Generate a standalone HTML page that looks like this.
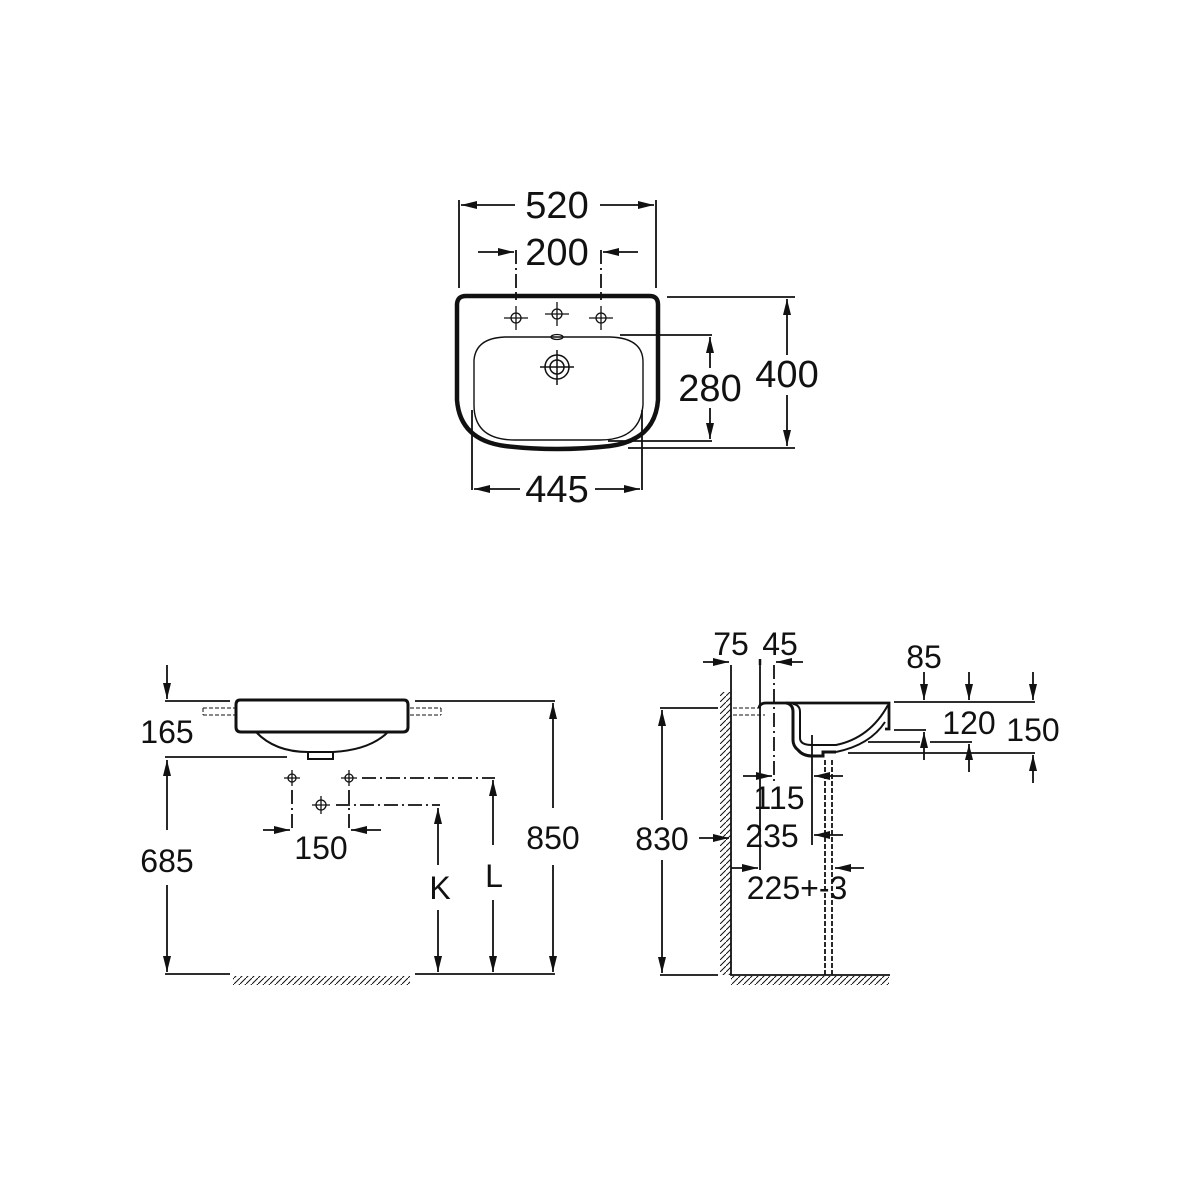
<!DOCTYPE html>
<html><head><meta charset="utf-8"><style>
html,body{margin:0;padding:0;background:#fff;}
svg{display:block;}
text{font-family:"Liberation Sans",Arial,sans-serif;fill:#111;text-anchor:middle;}
</style></head><body>
<svg width="1200" height="1200" viewBox="0 0 1200 1200" xmlns="http://www.w3.org/2000/svg">
<defs>
<marker id="a" viewBox="0 0 16 8" refX="16" refY="4" markerWidth="16" markerHeight="8" orient="auto" markerUnits="userSpaceOnUse"><path d="M0,0 L16,4 L0,8 Z" fill="#111"/></marker>
<pattern id="h" width="6" height="6" patternUnits="userSpaceOnUse"><path d="M-1,7 L7,-1" stroke="#111" stroke-width="1"/></pattern>
</defs>
<g stroke="#111" stroke-width="1.8" fill="none">
<!-- TOP VIEW -->
<path d="M457,305 Q457,296 466,296 L650,296 Q658,296 658,305 L658,400 Q655,440 610,446 Q557,452 505,446 Q460,440 457,400 Z" stroke-width="4.5"/>
<path d="M474,360 Q476,338 505,337 L610,337 Q643,338 643,362 L643,405 Q640,440 600,440 L515,440 Q474,440 474,405 Z" stroke-width="1.4"/>
<ellipse cx="557" cy="337" rx="6" ry="2.5" stroke-width="1.3"/>
<circle cx="557" cy="367" r="12" stroke-width="1.5"/><circle cx="557" cy="367" r="7" stroke-width="1.5"/>
<path d="M540,367 L574,367 M557,350 L557,385" stroke-width="1.5"/>
<g stroke-width="1.3">
<circle cx="516" cy="318" r="5"/><path d="M504,318 L528,318 M516,306 L516,330"/>
<circle cx="557" cy="314" r="5"/><path d="M545,314 L569,314 M557,302 L557,326"/>
<circle cx="601" cy="318" r="5"/><path d="M589,318 L613,318 M601,306 L601,330"/>
</g>
<path d="M459,200 L459,288 M656,200 L656,288"/>
<path d="M515,205 L461,205" marker-end="url(#a)"/><path d="M600,205 L654,205" marker-end="url(#a)"/>
<path d="M516,250 L516,300 M601,250 L601,300" stroke-dasharray="14,4,2,4"/>
<path d="M478,252 L514,252" marker-end="url(#a)"/><path d="M638,252 L603,252" marker-end="url(#a)"/>
<path d="M667,297 L795,297 M628,448 L795,448"/>
<path d="M787,355 L787,299" marker-end="url(#a)"/><path d="M787,395 L787,446" marker-end="url(#a)"/>
<path d="M620,335 L712,335 M608,441 L712,441"/>
<path d="M710,368 L710,337" marker-end="url(#a)"/><path d="M710,408 L710,439" marker-end="url(#a)"/>
<path d="M472,410 L472,490 M642,410 L642,490"/>
<path d="M520,489 L474,489" marker-end="url(#a)"/><path d="M595,489 L640,489" marker-end="url(#a)"/>

<!-- FRONT VIEW -->
<path d="M240,700 L404,700 Q408,700 408,705 L408,727 Q408,732 403,732 L241,732 Q236,732 236,727 L236,705 Q236,700 240,700 Z" stroke-width="3"/>
<path d="M256,732 Q275,752 308,752 L333,752 Q370,750 388,732" stroke-width="2"/>
<path d="M308,752 L308,759 L333,759 L333,752" stroke-width="2"/>
<path d="M203,708 L235,708 M203,715 L235,715 M203,708 L203,715 M410,708 L441,708 M410,715 L441,715 M441,708 L441,715" stroke-dasharray="4,2" stroke-width="1"/>
<path d="M165,701 L230,701 M415,701 L555,701"/>
<path d="M167,665 L167,699" marker-end="url(#a)"/>
<path d="M165,757 L287,757"/>
<path d="M167,830 L167,760" marker-end="url(#a)"/><path d="M167,885 L167,972" marker-end="url(#a)"/>
<path d="M165,974 L230,974 M415,974 L555,974"/>
<rect x="233" y="976" width="177" height="9" fill="url(#h)" stroke="none"/>
<g stroke-width="1.3">
<circle cx="292" cy="778" r="4"/><path d="M284,778 L300,778 M292,770 L292,786"/>
<circle cx="349" cy="778" r="4"/><path d="M341,778 L357,778 M349,770 L349,786"/>
<circle cx="321" cy="805" r="5"/><path d="M312,805 L330,805 M321,796 L321,814"/>
</g>
<path d="M362,778 L495,778 M336,805 L440,805 M292,790 L292,830 M349,790 L349,830" stroke-dasharray="14,4,2,4"/>
<path d="M263,830 L290,830" marker-end="url(#a)"/><path d="M381,830 L351,830" marker-end="url(#a)"/>
<path d="M438,865 L438,808" marker-end="url(#a)"/><path d="M438,910 L438,972" marker-end="url(#a)"/>
<path d="M493,845 L493,780" marker-end="url(#a)"/><path d="M493,900 L493,972" marker-end="url(#a)"/>
<path d="M553,808 L553,703" marker-end="url(#a)"/><path d="M553,865 L553,972" marker-end="url(#a)"/>

<!-- SIDE VIEW -->
<path d="M731,665 L731,975 L890,975"/>
<rect x="720" y="692" width="11" height="283" fill="url(#h)" stroke="none"/>
<rect x="731" y="976" width="158" height="9" fill="url(#h)" stroke="none"/>
<path d="M825,760 L825,975 M832,760 L832,975" stroke-dasharray="5,2"/>
<path d="M660,708 L718,708 M660,975 L718,975"/>
<path d="M662,820 L662,710" marker-end="url(#a)"/><path d="M662,860 L662,973" marker-end="url(#a)"/>
<path d="M699,838 L729,838" marker-end="url(#a)"/>
<path d="M733,708 L762,708 M733,715 L765,715" stroke-dasharray="4,2" stroke-width="1"/>
<path d="M759,708 Q760,703 766,703 L889,703 L889,729 L885,729" stroke-width="2.8"/>
<path d="M786,703 Q793,704 793,712 L793,740 Q793,746 798,750 Q803,756 812,756 L823,756 L823,752 L836,752" stroke-width="3"/>
<path d="M888,705 Q870,738 836,745 L812,745 Q800,745 800,738 L800,712 Q800,705 793,704" stroke-width="2"/>
<path d="M836,752 Q870,745 885,722" stroke-width="2"/>
<path d="M760,660 L760,870 M812,735 L812,845"/>
<path d="M774,665 L774,785" stroke-dasharray="14,4,2,4"/>
<path d="M760,659 L760,665" stroke-width="2.5"/>
<path d="M703,662 L729,662" marker-end="url(#a)"/><path d="M803,662 L776,662" marker-end="url(#a)"/>
<path d="M894,702 L1035,702"/>
<path d="M924,672 L924,700" marker-end="url(#a)"/><path d="M969,672 L969,700" marker-end="url(#a)"/><path d="M1033,672 L1033,700" marker-end="url(#a)"/>
<path d="M894,730 L926,730 M868,742 L920,742 M930,742 L972,742 M848,753 L1035,753"/>
<path d="M924,760 L924,732" marker-end="url(#a)"/><path d="M969,772 L969,744" marker-end="url(#a)"/><path d="M1033,783 L1033,755" marker-end="url(#a)"/>
<path d="M743,776 L772,776" marker-end="url(#a)"/><path d="M843,776 L814,776" marker-end="url(#a)"/>
<path d="M843,835 L814,835" marker-end="url(#a)"/>
<path d="M731,868 L758,868" marker-end="url(#a)"/><path d="M864,868 L835,868" marker-end="url(#a)"/>
</g>
<g font-size="38">
<text x="557" y="218">520</text>
<text x="557" y="265">200</text>
<text x="787" y="387">400</text>
<text x="710" y="401">280</text>
<text x="557" y="502">445</text>
</g>
<g font-size="32">
<text x="167" y="743">165</text>
<text x="167" y="872">685</text>
<text x="321" y="859">150</text>
<text x="440" y="899">K</text>
<text x="494" y="887">L</text>
<text x="553" y="849">850</text>
<text x="662" y="850">830</text>
<text x="731" y="655">75</text>
<text x="780" y="655">45</text>
<text x="924" y="668">85</text>
<text x="969" y="734">120</text>
<text x="1033" y="741">150</text>
<text x="779" y="809">115</text>
<text x="772" y="847">235</text>
<text x="797" y="899">225+-3</text>
</g>
</svg>
</body></html>
